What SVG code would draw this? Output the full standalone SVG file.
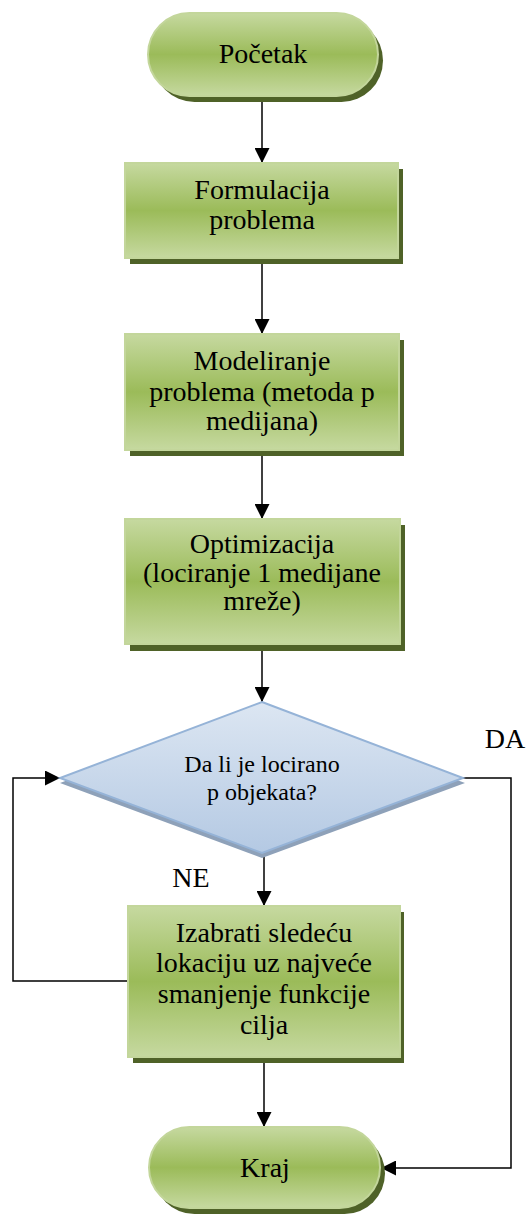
<svg xmlns="http://www.w3.org/2000/svg" width="528" height="1214" viewBox="0 0 528 1214">
<defs>
<linearGradient id="gGreen" x1="0" y1="0" x2="0" y2="1">
<stop offset="0" stop-color="#c6d9a0"/>
<stop offset="0.5" stop-color="#9bbb59"/>
<stop offset="1" stop-color="#c6d9a0"/>
</linearGradient>
<linearGradient id="gBlue" x1="0" y1="0" x2="0" y2="1">
<stop offset="0" stop-color="#dce6f2"/>
<stop offset="1" stop-color="#b4c9e3"/>
</linearGradient>
<marker id="arr" markerUnits="userSpaceOnUse" markerWidth="15" markerHeight="15" refX="15" refY="7.5" orient="auto">
<path d="M0,0 L15,7.5 L0,15 z" fill="#000"/>
</marker>
</defs>
<style>
.sh{fill:#4f6228}
.gn{fill:url(#gGreen);stroke:#c3d69b;stroke-width:2}
.dsh{fill:#8ea1b9}
.bl{fill:url(#gBlue);stroke:#95b3d7;stroke-width:2}
.t{font-family:'Liberation Serif','Times New Roman','DejaVu Serif','Noto Serif',serif;font-size:28px;fill:#000;text-anchor:middle}
.ts{font-size:24px}
.ca{fill:none;stroke:#000;stroke-width:1.5;marker-end:url(#arr)}
</style>
<g id="connectors">
<line class="ca" x1="262" y1="97" x2="262" y2="163"/>
<line class="ca" x1="262" y1="264" x2="262" y2="334"/>
<line class="ca" x1="262" y1="456" x2="262" y2="519"/>
<line class="ca" x1="262" y1="650" x2="262" y2="702"/>
<line class="ca" x1="264" y1="853" x2="264" y2="906"/>
<polyline class="ca" points="128,981 13,981 13,778 60,778"/>
<polyline class="ca" points="463,778 511,778 511,1168 381,1168"/>
<line class="ca" x1="264" y1="1063" x2="264" y2="1127"/>
</g>
<g id="start">
<rect class="sh" x="153" y="19" width="230" height="83" rx="41.5"/>
<rect class="gn" x="148" y="13" width="230" height="83" rx="41.5"/>
<text class="t" x="263" y="63">Početak</text>
</g>
<g id="formulacija">
<rect class="sh" x="130" y="169" width="273" height="95"/>
<rect class="gn" x="125" y="163" width="273" height="95"/>
<text class="t" x="262" y="199">Formulacija</text>
<text class="t" x="262" y="229">problema</text>
</g>
<g id="modeliranje">
<rect class="sh" x="130" y="340" width="274" height="116"/>
<rect class="gn" x="125" y="334" width="274" height="116"/>
<text class="t" x="262" y="370">Modeliranje</text>
<text class="t" x="262" y="401">problema (metoda p</text>
<text class="t" x="262" y="430">medijana)</text>
</g>
<g id="optimizacija">
<rect class="sh" x="130" y="525" width="275" height="126"/>
<rect class="gn" x="125" y="519" width="275" height="125"/>
<text class="t" x="262" y="553">Optimizacija</text>
<text class="t" x="262" y="582">(lociranje 1 medijane</text>
<text class="t" x="262" y="610">mreže)</text>
</g>
<g id="decision">
<polygon class="dsh" points="262,707 465,783 262,858 60,783"/>
<polygon class="bl" points="262,702 463,778 262,853 60,778"/>
<text class="t ts" x="262" y="772">Da li je locirano</text>
<text class="t ts" x="262" y="800">p objekata?</text>
</g>
<g id="labels">
<text class="t" x="505" y="748">DA</text>
<text class="t" x="191" y="887">NE</text>
</g>
<g id="izabrati">
<rect class="sh" x="133" y="912" width="271" height="151"/>
<rect class="gn" x="128" y="906" width="272" height="151"/>
<text class="t" x="264" y="942">Izabrati sledeću</text>
<text class="t" x="264" y="972">lokaciju uz najveće</text>
<text class="t" x="264" y="1003">smanjenje funkcije</text>
<text class="t" x="264" y="1034">cilja</text>
</g>
<g id="kraj">
<rect class="sh" x="154" y="1133" width="231" height="81" rx="40.5"/>
<rect class="gn" x="149" y="1127" width="231" height="81" rx="40.5"/>
<text class="t" x="265" y="1177">Kraj</text>
</g>
</svg>
